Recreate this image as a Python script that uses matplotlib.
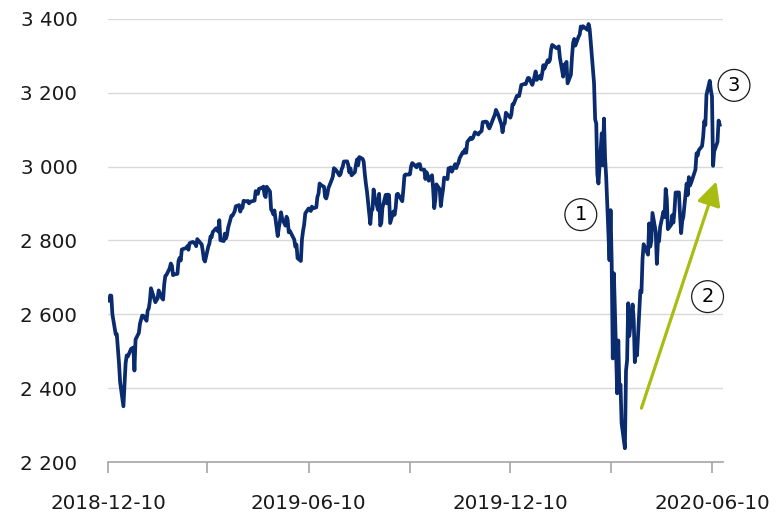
"""
S&P 500 daily close, Dec 2018 - Jun 2020, with annotated phases.
"""

import matplotlib

matplotlib.use("Agg")
import matplotlib.dates as mdates
import matplotlib.pyplot as plt
import matplotlib.ticker as mticker
import pandas as pd

# trading calendar for the period (US market holidays)
start_day = "2018-12-10"
end_day = "2020-06-17"
holidays = [
    "2018-12-25", "2019-01-01", "2019-01-21", "2019-02-18", "2019-04-19",
    "2019-05-27", "2019-07-04", "2019-09-02", "2019-11-28", "2019-12-25",
    "2020-01-01", "2020-01-20", "2020-02-17", "2020-04-10", "2020-05-25",
]

# daily close values
close_2018 = [
    2637.7, 2636.8, 2651.1, 2650.5, 2600.0, 2545.9, 2546.2, 2507.0, 2467.4, 2416.6,
    2351.1, 2467.7, 2488.8, 2485.7, 2506.9,
]
close_2019 = [
    # jan
    2510.0, 2447.9, 2531.9, 2549.7, 2574.4, 2585.0, 2596.6, 2596.3, 2582.6, 2610.3,
    2616.1, 2636.0, 2670.7, 2632.9, 2638.7, 2642.3, 2664.8, 2643.9, 2640.0, 2681.1,
    2704.1,
    # feb
    2706.5, 2724.9, 2737.7, 2731.6, 2706.1, 2707.9, 2709.8, 2744.7, 2753.0, 2745.7,
    2775.6, 2779.8, 2784.7, 2774.9, 2792.7, 2796.1, 2793.9, 2792.4, 2784.5,
    # mar
    2803.7, 2792.8, 2789.7, 2771.5, 2748.9, 2743.1, 2783.3, 2791.5, 2810.9, 2808.5,
    2822.5, 2832.9, 2832.6, 2824.2, 2854.9, 2800.7, 2798.4, 2818.5, 2805.4, 2815.4,
    2834.4,
    # apr
    2867.2, 2867.2, 2873.4, 2879.4, 2892.7, 2895.8, 2878.2, 2888.2, 2888.3, 2907.4,
    2905.6, 2907.1, 2900.5, 2905.0, 2908.0, 2933.7, 2927.3, 2926.2, 2939.9, 2943.0,
    2945.8,
    # may
    2923.7, 2917.5, 2945.6, 2932.5, 2884.1, 2879.4, 2870.7, 2881.4, 2811.9, 2834.4,
    2851.0, 2876.3, 2859.5, 2840.2, 2864.4, 2856.3, 2822.2, 2826.1, 2802.4, 2783.0,
    2788.9, 2752.1,
    # jun
    2744.5, 2803.3, 2826.2, 2843.5, 2873.3, 2886.7, 2885.7, 2879.8, 2891.6, 2887.0,
    2889.7, 2917.8, 2926.5, 2954.2, 2950.5, 2945.4, 2917.4, 2913.8, 2924.9, 2941.8,
    # jul
    2964.3, 2973.0, 2995.8, 2990.4, 2976.0, 2979.6, 2993.1, 2999.9, 3013.8, 3014.3,
    3004.0, 2984.4, 2995.1, 2976.6, 2985.0, 3005.5, 3019.6, 3003.7, 3025.9, 3021.0,
    3013.2, 2980.4,
    # aug
    2953.6, 2932.1, 2844.7, 2881.8, 2884.0, 2938.1, 2918.7, 2882.7, 2926.3, 2840.6,
    2847.6, 2888.7, 2923.7, 2900.5, 2924.4, 2923.0, 2847.1, 2878.4, 2869.2, 2887.9,
    2924.6, 2926.5,
    # sep
    2906.3, 2937.8, 2976.0, 2978.7, 2978.4, 2979.4, 3000.9, 3009.6, 3007.4, 2998.0,
    3005.7, 3006.7, 3006.8, 2992.1, 2991.8, 2966.6, 2984.9, 2977.6, 2961.8, 2976.7,
    # oct
    2940.3, 2887.6, 2910.6, 2952.0, 2938.8, 2893.1, 2919.4, 2938.1, 2970.3, 2966.2,
    2995.7, 2989.7, 2998.0, 2986.2, 3006.7, 2996.0, 3004.5, 3010.3, 3022.6, 3039.4,
    3036.9, 3046.8, 3037.6,
    # nov
    3066.9, 3078.3, 3074.6, 3076.8, 3085.2, 3093.1, 3087.0, 3091.8, 3094.0, 3096.6,
    3120.5, 3122.0, 3120.2, 3108.5, 3103.5, 3110.3, 3133.6, 3140.5, 3153.6, 3141.0,
    # dec
    3113.9, 3093.2, 3112.8, 3117.4, 3145.9, 3136.0, 3132.5, 3141.6, 3168.6, 3168.8,
    3191.5, 3192.5, 3191.1, 3205.4, 3221.2, 3224.0, 3223.4, 3239.9, 3240.0, 3221.3,
    3230.8,
]
close_2020 = [
    # jan
    3257.9, 3234.9, 3246.3, 3237.2, 3253.1, 3274.7, 3265.4, 3288.1, 3283.2, 3289.3,
    3316.8, 3329.6, 3320.8, 3321.8, 3325.5, 3295.5, 3243.6, 3276.2, 3273.4, 3283.7,
    3225.5,
    # feb
    3248.9, 3297.6, 3334.7, 3345.8, 3327.7, 3352.1, 3357.8, 3379.5, 3373.9, 3380.2,
    3370.3, 3386.2, 3373.2, 3337.8, 3225.9, 3128.2, 3116.4, 2978.8, 2954.2,
    # mar
    3090.2, 3003.4, 3130.1, 3023.9, 2972.4, 2746.6, 2882.2, 2741.4, 2480.6, 2711.0,
    2386.1, 2529.2, 2398.1, 2409.4, 2304.9, 2237.4, 2447.3, 2475.6, 2630.1, 2541.5,
    2626.7, 2584.6,
    # apr
    2470.5, 2526.9, 2488.7, 2663.7, 2659.4, 2750.0, 2789.8, 2761.6, 2846.1, 2783.4,
    2799.6, 2874.6, 2823.2, 2736.6, 2799.3, 2797.8, 2836.7, 2878.5, 2863.4, 2939.5,
    2912.4,
    # may
    2830.7, 2842.7, 2868.4, 2848.4, 2881.2, 2929.8, 2930.2, 2870.1, 2820.0, 2852.5,
    2863.7, 2953.9, 2922.9, 2971.6, 2948.5, 2955.5, 2991.8, 3036.1, 3029.7, 3044.3,
    # jun
    3055.7, 3080.8, 3122.9, 3112.4, 3193.9, 3232.4, 3207.2, 3190.1, 3002.1, 3041.3,
    3066.6, 3124.7, 3113.5,
]

# circled labels and the recovery arrow (date, value)
phase_labels = ["1", "2", "3"]
phase_dates = ["2020-02-12", "2020-06-06", "2020-06-30"]
phase_values = [2870, 2648, 3220]
arrow_from = ("2020-04-07", 2346)
arrow_to = ("2020-06-14", 2960)

y_ticks = [2200, 2400, 2600, 2800, 3000, 3200, 3400]

NAVY = "#0A2C6E"
GREEN = "#A8BC12"

days = pd.bdate_range(start_day, end_day, freq="C", holidays=holidays)
close = close_2018 + close_2019 + close_2020
n = min(len(days), len(close))

fig = plt.figure(figsize=(7.78, 5.18), dpi=100)
ax = fig.add_axes([0.1388, 0.108, 0.7905, 0.8555])

ax.plot(days[:n], close[:n], color=NAVY, lw=2.7, solid_joinstyle="round", zorder=3)

ax.set_ylim(2200, 3400)
ax.set_xlim(pd.Timestamp("2018-12-10"), pd.Timestamp("2020-06-20"))
ax.set_yticks(y_ticks)
ax.yaxis.set_major_formatter(
    mticker.FuncFormatter(lambda v, p: "{:,.0f}".format(v).replace(",", " "))
)
ax.grid(axis="y", color="#D9D9D9", lw=1.0)
ax.set_axisbelow(True)

ax.xaxis.set_major_locator(mdates.MonthLocator(bymonth=[6, 12], bymonthday=10))
ax.xaxis.set_minor_locator(mdates.MonthLocator(bymonth=[3, 9], bymonthday=10))
ax.xaxis.set_major_formatter(mdates.DateFormatter("%Y-%m-%d"))

for side in ["top", "right", "left"]:
    ax.spines[side].set_visible(False)
ax.spines["bottom"].set_color("#A6A6A6")
ax.spines["bottom"].set_linewidth(1.2)

ax.tick_params(axis="y", length=0, pad=22, labelsize=14.3, labelcolor="#1A1A1A")
ax.tick_params(axis="x", which="both", length=8, width=1.2, color="#A6A6A6")
ax.tick_params(axis="x", which="major", pad=15, labelsize=14.3, labelcolor="#1A1A1A")

for lab, d, v in zip(phase_labels, phase_dates, phase_values):
    ax.text(
        pd.Timestamp(d), v, lab, fontsize=14, ha="center", va="center",
        clip_on=False, zorder=5,
        bbox=dict(boxstyle="circle,pad=0.33", fc="white", ec="#1A1A1A", lw=0.9),
    )

ax.annotate(
    "",
    xy=(pd.Timestamp(arrow_to[0]), arrow_to[1]),
    xytext=(pd.Timestamp(arrow_from[0]), arrow_from[1]),
    arrowprops=dict(
        arrowstyle="-|>,head_length=0.9,head_width=0.45",
        color=GREEN, lw=2.3, mutation_scale=16, shrinkA=0, shrinkB=0,
    ),
    zorder=4,
)

fig.savefig("out.png", dpi=100)
